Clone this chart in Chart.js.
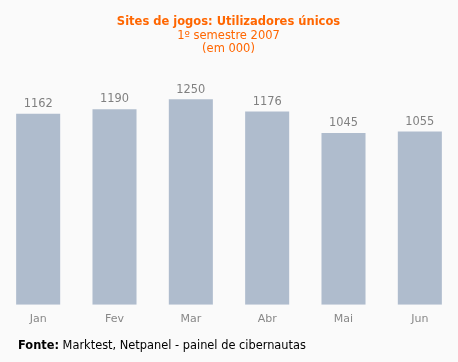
<!DOCTYPE html>
<html>
<head>
<meta charset="utf-8">
<script src="https://cdn.jsdelivr.net/npm/chart.js@4"></script>
<style>
    body { margin: 0; background: #fafafa; }
    #caixa { position: relative; width: 458px; height: 362px; }
    #fonte {
        position: absolute; left: 18px; top: 338px;
        font: 11.4px "DejaVu Sans", Verdana, sans-serif; color: #000;
    }
</style>
</head>
<body>
<div id="caixa">
    <canvas id="myChart" width="458" height="362"></canvas>
    <div id="fonte"><b>Fonte:</b> Marktest, Netpanel - painel de cibernautas</div>
</div>
<script>
var meses = [`Jan`, `Fev`, `Mar`, `Abr`, `Mai`, `Jun`];
var utilizadores = [1162, 1190, 1250, 1176, 1045, 1055];

// escreve o valor por cima de cada barra
var rotulos = {
    id: 'rotulos',
    afterDatasetsDraw: function (chart) {
        var ctx = chart.ctx;
        ctx.save();
        ctx.font = '11.4px "DejaVu Sans", Verdana, sans-serif';
        ctx.fillStyle = '#808080';
        ctx.textAlign = 'center';
        ctx.textBaseline = 'bottom';
        chart.getDatasetMeta(0).data.forEach(function (barra, i) {
            ctx.fillText(utilizadores[i], barra.x, barra.y - 4);
        });
        ctx.restore();
    }
};

const ctx = document.getElementById('myChart');
new Chart(ctx, {
    type: 'bar',
    data: {
        labels: meses,
        datasets: [{
            label: `Utilizadores únicos`,
            data: utilizadores,
            backgroundColor: '#afbccd',
            barPercentage: 0.577,
            categoryPercentage: 1
        }]
    },
    options: {
        responsive: false,
        animation: false,
        layout: { padding: { left: -1, right: 0, top: 0, bottom: 28 } },
        plugins: {
            legend: { display: false },
            tooltip: { enabled: false },
            title: {
                display: true,
                text: `Sites de jogos: Utilizadores únicos`,
                color: '#ff6600',
                font: { family: '"DejaVu Sans", Verdana, sans-serif', size: 11.5, weight: 'bold', lineHeight: 1.15 },
                padding: { top: 15, bottom: 0 }
            },
            subtitle: {
                display: true,
                text: [`1º semestre 2007`, `(em 000)`],
                color: '#ff6600',
                font: { family: '"DejaVu Sans", Verdana, sans-serif', size: 11.5, lineHeight: 1.15 },
                padding: { top: 1, bottom: 19 }
            }
        },
        scales: {
            x: {
                grid: { display: false, drawTicks: false },
                border: { display: false },
                ticks: {
                    color: '#888888',
                    padding: 8,
                    font: { family: '"DejaVu Sans", Verdana, sans-serif', size: 11 }
                }
            },
            y: {
                display: false,
                min: 0,
                max: 1400
            }
        }
    },
    plugins: [rotulos]
});
</script>
</body>
</html>
